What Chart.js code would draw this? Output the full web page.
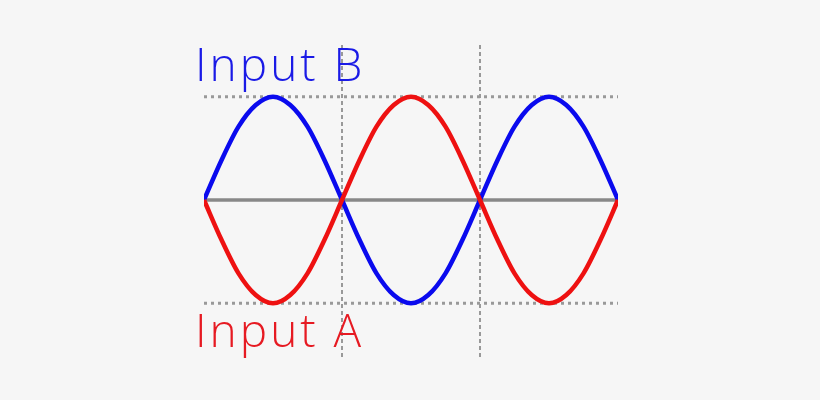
<!DOCTYPE html>
<html>
<head>
<meta charset="utf-8">
<script src="https://cdn.jsdelivr.net/npm/chart.js@4"></script>
<style>
  html, body { margin: 0; padding: 0; background: #f6f6f6; }
  #wrap { width: 820px; height: 400px; }
</style>
</head>
<body>
<div id="wrap"><canvas id="grafico"></canvas></div>
<script>
// posições no eixo x (8 pontos por meia onda, 3 meias ondas)
const posicoes = [0, 1, 2, 3, 4, 5, 6, 7, 8, 9, 10, 11, 12, 13, 14, 15, 16, 17, 18, 19, 20, 21, 22, 23, 24];
// Input B (azul)
const inputB = [0, 0.38, 0.71, 0.92, 1, 0.92, 0.71, 0.38, 0, -0.38, -0.71, -0.92, -1, -0.92, -0.71, -0.38, 0, 0.38, 0.71, 0.92, 1, 0.92, 0.71, 0.38, 0];
// Input A (vermelho), invertido
const inputA = [0, -0.38, -0.71, -0.92, -1, -0.92, -0.71, -0.38, 0, 0.38, 0.71, 0.92, 1, 0.92, 0.71, 0.38, 0, -0.38, -0.71, -0.92, -1, -0.92, -0.71, -0.38, 0];
// linhas de referência
const divisoes = [8, 16];
const niveis = [1, -1];
const limiteY = 1.52;
const rotulos = ["Input B", "Input A"];

const pontos = (ys) => posicoes.map((x, i) => ({ x: x, y: ys[i] }));

const datasets = [
    {
        label: rotulos[1],
        data: pontos(inputA),
        borderColor: "#ee1111",
        borderWidth: 4.5,
        cubicInterpolationMode: "monotone",
        pointRadius: 0,
        order: 0
    },
    {
        label: rotulos[0],
        data: pontos(inputB),
        borderColor: "#0a0aee",
        borderWidth: 4.5,
        cubicInterpolationMode: "monotone",
        pointRadius: 0,
        order: 1
    },
    {
        label: "zero",
        data: [{ x: posicoes[0], y: 0 }, { x: posicoes[posicoes.length - 1], y: 0 }],
        borderColor: "#888888",
        borderWidth: 3.5,
        pointRadius: 0,
        order: 2
    }
];

niveis.forEach(n => {
    datasets.push({
        label: "nivel",
        data: [{ x: posicoes[0], y: n }, { x: posicoes[posicoes.length - 1], y: n }],
        borderColor: "#999999",
        borderWidth: 3,
        borderDash: [3, 4],
        pointRadius: 0,
        order: 3
    });
});

divisoes.forEach(d => {
    datasets.push({
        label: "divisao",
        data: [{ x: d, y: -limiteY }, { x: d, y: limiteY }],
        borderColor: "#999999",
        borderWidth: 2,
        borderDash: [4, 3],
        pointRadius: 0,
        order: 3
    });
});

// escreve os rótulos Input B / Input A
const pluginRotulos = {
    id: "rotulos",
    afterDraw(chart) {
        const ctx = chart.ctx;
        const area = chart.chartArea;
        ctx.save();
        ctx.font = "300 46px 'Open Sans'";
        ctx.letterSpacing = "3px";
        ctx.textBaseline = "alphabetic";
        ctx.fillStyle = "#1a1ae6";
        ctx.fillText(rotulos[0], area.left - 9, 81);
        ctx.fillStyle = "#e61a22";
        ctx.fillText(rotulos[1], area.left - 9, 347);
        ctx.restore();
    }
};

new Chart(document.getElementById("grafico"), {
    type: "line",
    data: { datasets: datasets },
    options: {
        responsive: true,
        maintainAspectRatio: false,
        animation: false,
        layout: { padding: { left: 204, right: 202, top: 43, bottom: 43 } },
        plugins: {
            legend: { display: false },
            tooltip: { enabled: false }
        },
        scales: {
            x: { type: "linear", display: false, min: 0, max: 24 },
            y: { display: false, min: -limiteY, max: limiteY }
        }
    },
    plugins: [pluginRotulos]
});
</script>
</body>
</html>
